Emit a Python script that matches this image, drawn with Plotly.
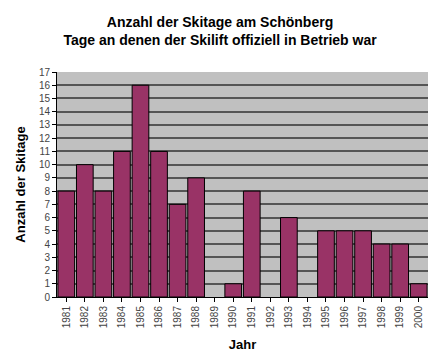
import plotly.graph_objects as go

years = [str(y) for y in range(1981, 2001)]
skitage = [8, 10, 8, 11, 16, 11, 7, 9, 0, 1, 8, 0, 6, 0, 5, 5, 5, 4, 4, 1]
y_ticks = list(range(0, 18))

border_w = [1 if v > 0 else 0 for v in skitage]

fig = go.Figure()
fig.add_trace(go.Bar(
    x=years, y=skitage,
    marker=dict(color="#993366", line=dict(color="#000000", width=border_w)),
))

fig.update_layout(
    width=440, height=363,
    margin=dict(l=57, r=12, t=72, b=66),
    paper_bgcolor="white",
    plot_bgcolor="#c0c0c0",
    bargap=0.1,
    showlegend=False,
    font=dict(family="Arial, Liberation Sans, sans-serif", color="black"),
    title=dict(
        text="<b>Anzahl der Skitage am Schönberg<br>Tage an denen der Skilift offiziell in Betrieb war</b>",
        x=0.5, xanchor="center", y=0.926, yanchor="middle",
        font=dict(size=14, family="Arial, Liberation Sans, sans-serif"),
    ),
)
fig.update_xaxes(
    type="category",
    automargin=False,
    tickangle=-90,
    tickfont=dict(size=10, color="#444"),
    ticks="outside", ticklen=4, tickcolor="black",
    showline=True, linecolor="black", linewidth=1,
    title=dict(text="<b>Jahr</b>", font=dict(size=13), standoff=12),
    showgrid=False,
)
fig.update_yaxes(
    automargin=False,
    range=[0, 17],
    tickvals=y_ticks,
    tickfont=dict(size=10, color="#444"),
    ticks="outside", ticklen=4, tickcolor="black",
    showline=True, linecolor="black", linewidth=1,
    showgrid=True, gridcolor="#555555", gridwidth=1.5,
    title=dict(text="<b>Anzahl der Skitage</b>", font=dict(size=13), standoff=10),
    zeroline=False,
)

fig.write_html("out.html", config={"displayModeBar": False},
               post_script="document.body.style.margin='0px';")
